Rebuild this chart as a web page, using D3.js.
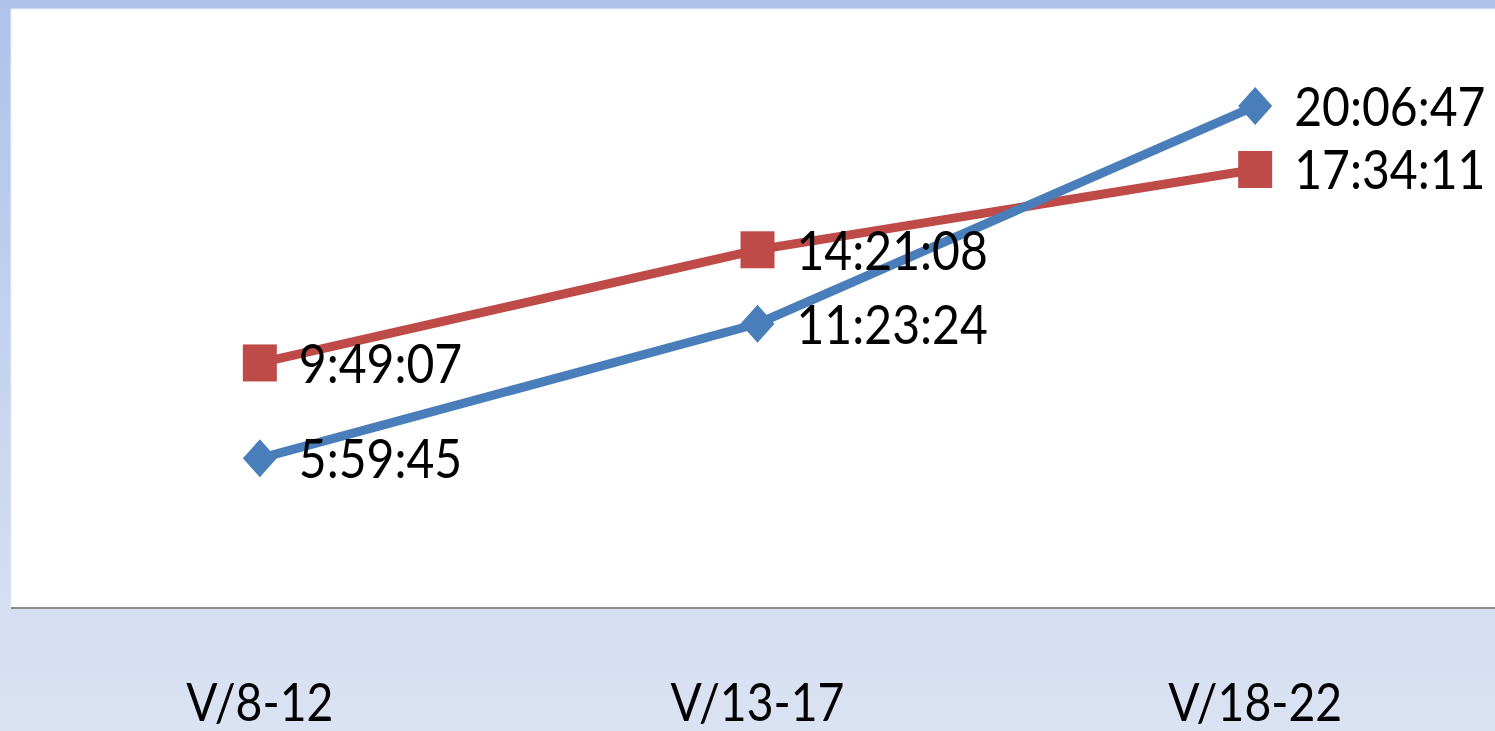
<!DOCTYPE html>
<html><head><meta charset="utf-8">
<script src="https://cdn.jsdelivr.net/npm/d3@7"></script>
<style>html,body{margin:0;padding:0;overflow:hidden;background:#fff}</style>
</head><body>
<svg id="chart" width="1495" height="731"></svg>
<script>
const categories = ["V/8-12", "V/13-17", "V/18-22"];
const seriesBlue = [5 + 59/60 + 45/3600, 11 + 23/60 + 24/3600, 20 + 6/60 + 47/3600];
const seriesRed = [9 + 49/60 + 7/3600, 14 + 21/60 + 8/3600, 17 + 34/60 + 11/3600];
const labelsBlue = ["5:59:45", "11:23:24", "20:06:47"];
const labelsRed = ["9:49:07", "14:21:08", "17:34:11"];
const yDomain = [0, 24];

const W = 1495, H = 731;
const FONT = "Lato,'Noto Sans','Open Sans',sans-serif";
const SX = 0.89;
const svg = d3.select("#chart");
const defs = svg.append("defs");
const g = defs.append("linearGradient").attr("id","bg").attr("x1",0).attr("y1",0).attr("x2",0).attr("y2",1);
g.append("stop").attr("offset","0%").attr("stop-color","#adc3e9");
g.append("stop").attr("offset","85%").attr("stop-color","#d6dff2");
g.append("stop").attr("offset","100%").attr("stop-color","#dae2f3");
svg.append("rect").attr("width",W).attr("height",H).attr("fill","url(#bg)");

const plot = {left: 11, top: 9, right: 1504, bottom: 608};
svg.append("rect").attr("x",plot.left).attr("y",plot.top)
  .attr("width",plot.right-plot.left).attr("height",plot.bottom-plot.top)
  .attr("fill","#ffffff").attr("stroke","#e8eef9").attr("stroke-width",1);

const x = d3.scaleBand().domain(categories).range([plot.left, plot.right]);
const y = d3.scaleLinear().domain(yDomain).range([plot.bottom, plot.top]);
const cx = c => x(c) + x.bandwidth()/2;

// x axis
const axis = svg.append("g").attr("transform",`translate(0,${plot.bottom})`)
  .call(d3.axisBottom(x).tickSize(0).tickPadding(0));
axis.select(".domain").attr("stroke","#8c8c8c").attr("stroke-width",2)
  .attr("d",`M${plot.left},0H${plot.right}`);
axis.selectAll("text").attr("y",null).attr("dy",null)
  .attr("transform",`translate(0,113) scale(${SX},1)`)
  .attr("font-family",FONT).attr("font-size",52).attr("fill","#000");

const line = d3.line().x((d,i)=>cx(categories[i])).y(d=>y(d));
svg.append("path").datum(seriesRed).attr("d",line).attr("fill","none")
  .attr("stroke","#be4b48").attr("stroke-width",9).attr("stroke-linejoin","round");
svg.append("path").datum(seriesBlue).attr("d",line).attr("fill","none")
  .attr("stroke","#4a7ebb").attr("stroke-width",9).attr("stroke-linejoin","round");

// markers
svg.selectAll(".sq").data(seriesRed).join("rect").attr("class","sq")
  .attr("x",(d,i)=>cx(categories[i])-17).attr("y",d=>y(d)-18.5)
  .attr("width",34).attr("height",37).attr("fill","#be4b48");
svg.selectAll(".dm").data(seriesBlue).join("path").attr("class","dm")
  .attr("d",(d,i)=>{const px=cx(categories[i]),py=y(d);return `M${px},${py-19}L${px+17},${py}L${px},${py+19}L${px-17},${py}Z`;})
  .attr("fill","#4a7ebb");

// data labels
function labels(vals, texts, cls){
  svg.selectAll("."+cls).data(vals).join("text").attr("class",cls)
    .attr("transform",(d,i)=>`translate(${cx(categories[i])+39},${y(d)+20}) scale(${SX},1)`)
    .attr("font-family",FONT)
    .attr("font-size",54).attr("fill","#000")
    .text((d,i)=>texts[i]);
}
labels(seriesRed, labelsRed, "lr");
labels(seriesBlue, labelsBlue, "lb");
</script>
</body></html>
